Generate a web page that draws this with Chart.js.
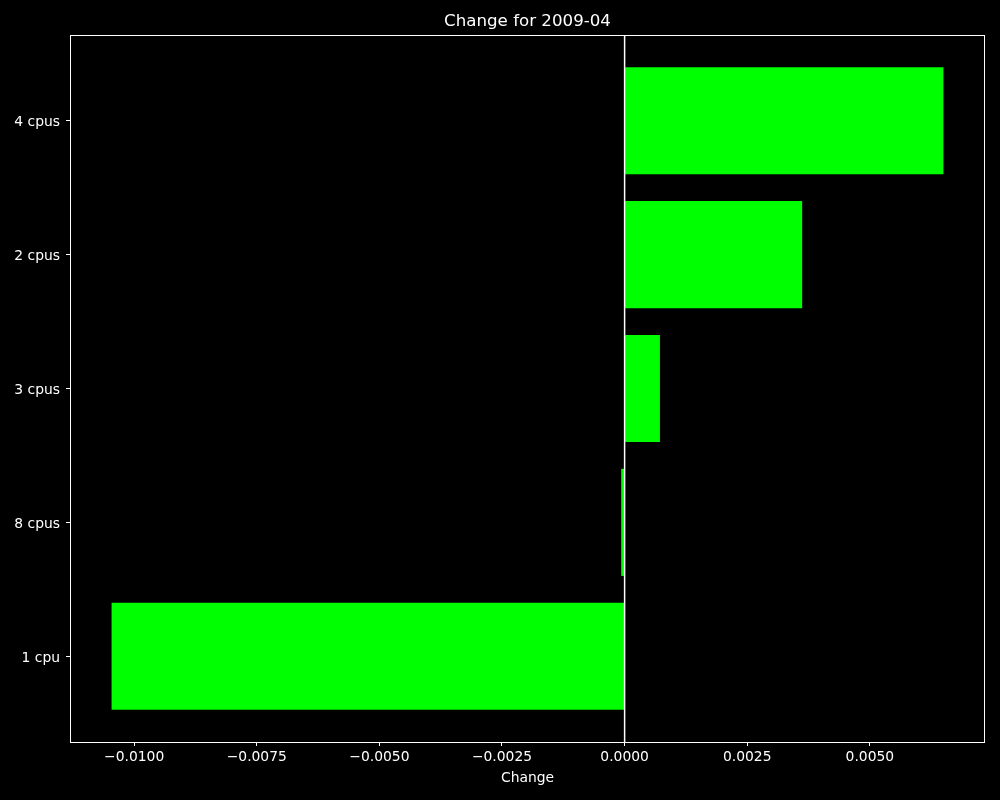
<!DOCTYPE html>
<html>
<head>
<meta charset="utf-8">
<script src="https://cdn.jsdelivr.net/npm/chart.js@4/dist/chart.umd.min.js"></script>
<style>
  html, body { margin: 0; padding: 0; background: #000; }
  canvas { display: block; }
</style>
</head>
<body>
<canvas id="grafico" width="1000" height="800"></canvas>
<script>
// Categorias (de baixo para cima, como no matplotlib barh)
const categorias = ['1 cpu', '8 cpus', '3 cpus', '2 cpus', '4 cpus'];
const mudancas = [-0.01046, -0.00007, 0.00072, 0.00362, 0.0065];
const ticksX = [-0.01, -0.0075, -0.005, -0.0025, 0, 0.0025, 0.005];

const fonte = 'DejaVu Sans';
const branco = '#ffffff';

// Limites com margem de 5%, igual ao matplotlib
const minDado = Math.min(0, ...mudancas);
const maxDado = Math.max(0, ...mudancas);
const margemX = (maxDado - minDado) * 0.05;
const margemY = (categorias.length - 1 + 0.8) * 0.05;

// Moldura + linha vertical no zero
const moldura = {
    id: 'moldura',
    afterDatasetsDraw(chart) {
        const { ctx, chartArea: a, scales } = chart;
        ctx.save();
        ctx.strokeStyle = branco;
        ctx.lineWidth = 1.5;
        const x0 = scales.x.getPixelForValue(0);
        ctx.beginPath();
        ctx.moveTo(x0, a.top);
        ctx.lineTo(x0, a.bottom);
        ctx.stroke();
        ctx.lineWidth = 1;
        ctx.strokeRect(a.left + 0.5, a.top + 0.5, a.right - a.left - 1, a.bottom - a.top);
        ctx.restore();
    }
};

const ctx = document.getElementById('grafico').getContext('2d');
new Chart(ctx, {
    type: 'bar',
    data: {
        datasets: [{
            data: mudancas.map((v, i) => ({ x: v, y: i })),
            backgroundColor: '#00ff00',
            borderWidth: 0,
            barPercentage: 1,
            categoryPercentage: 0.8
        }]
    },
    options: {
        indexAxis: 'y',
        responsive: false,
        animation: false,
        layout: { padding: { top: 0, right: 15, bottom: 0, left: 0 } },
        plugins: {
            legend: { display: false },
            tooltip: { enabled: false },
            title: {
                display: true,
                fullSize: false,
                text: 'Change for 2009-04',
                color: branco,
                font: { family: fonte, size: 16.67, weight: 'normal' },
                padding: { top: 12, bottom: 3 }
            }
        },
        scales: {
            x: {
                type: 'linear',
                min: minDado - margemX,
                max: maxDado + margemX,
                afterBuildTicks: (s) => { s.ticks = ticksX.map(v => ({ value: v })); },
                afterFit: (s) => { s.height = 58; },
                grid: { display: true, drawOnChartArea: false, drawTicks: true, tickLength: 4, tickColor: branco, color: branco },
                border: { display: false },
                ticks: {
                    color: branco,
                    padding: 3,
                    maxRotation: 0,
                    font: { family: fonte, size: 13.89 },
                    callback: (v) => v.toFixed(4).replace('-', '\u2212')
                },
                title: {
                    display: true,
                    text: 'Change',
                    color: branco,
                    font: { family: fonte, size: 13.89 },
                    padding: { top: 0, bottom: 13 }
                }
            },
            y: {
                type: 'linear',
                offset: false,
                min: -0.4 - margemY,
                max: categorias.length - 1 + 0.4 + margemY,
                afterBuildTicks: (s) => { s.ticks = categorias.map((c, i) => ({ value: i })); },
                afterFit: (s) => { s.width = 70; },
                grid: { display: true, offset: false, drawOnChartArea: false, drawTicks: true, tickLength: 4, tickColor: branco, color: branco },
                border: { display: false },
                ticks: {
                    color: branco,
                    padding: 6,
                    labelOffset: 2,
                    font: { family: fonte, size: 13.89 },
                    callback: (v) => categorias[v]
                }
            }
        }
    },
    plugins: [moldura]
});
</script>
</body>
</html>
